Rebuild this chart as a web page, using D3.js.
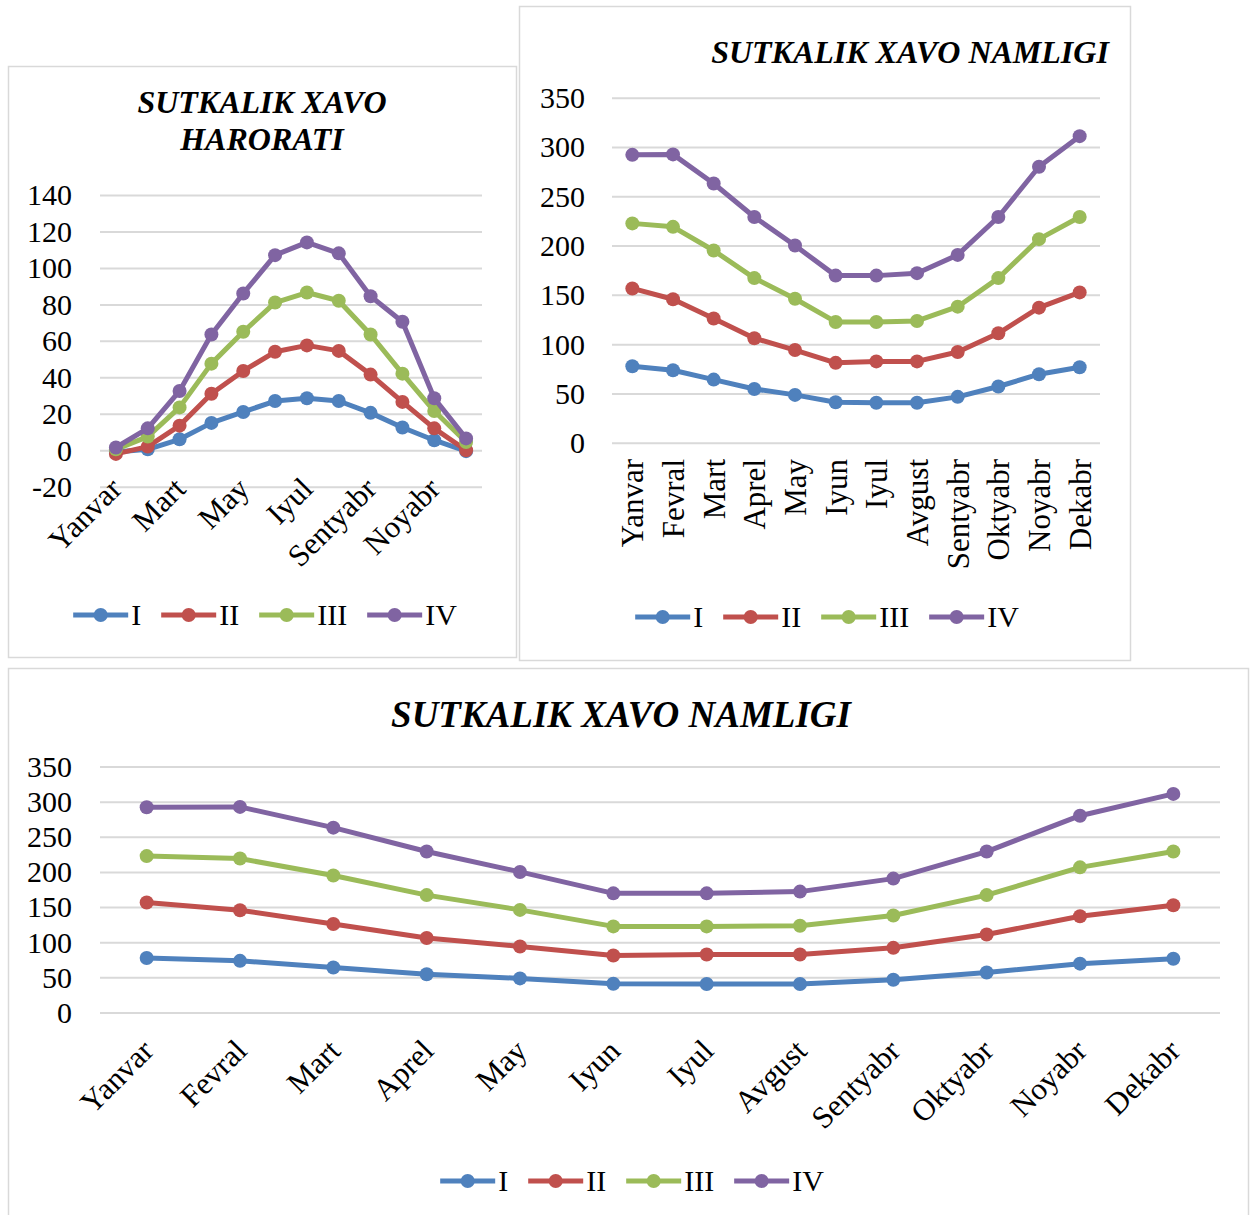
<!DOCTYPE html>
<html>
<head>
<meta charset="utf-8">
<script src="https://cdn.jsdelivr.net/npm/d3@7"></script>
<style>
  body { margin: 0; background: #fff; }
  text { font-family: "Liberation Serif", "Times New Roman", serif; fill: #000; }
</style>
</head>
<body>
<svg id="chart" width="1250" height="1215"></svg>
<script>
// categories and series
var months = ["Yanvar", "Fevral", "Mart", "Aprel", "May", "Iyun", "Iyul", "Avgust", "Sentyabr", "Oktyabr", "Noyabr", "Dekabr"];
var seriesNames = ["I", "II", "III", "IV"];
var colors = ["#4F81BD", "#C0504D", "#9BBB59", "#8064A2"];

// daily air temperature (values as plotted)
var tempI   = [-1, 0.5, 6, 15, 21, 27, 28.5, 27, 20.5, 12.5, 5.5, -0.5];
var tempII  = [-2, 2, 13.5, 31, 43.5, 54, 57.5, 54.5, 41.5, 26.5, 12, 0];
var tempIII = [0.5, 7.5, 23.5, 47.5, 65, 81, 86.5, 82, 63.5, 42, 21.5, 4.5];
var tempIV  = [1.5, 12, 32.5, 63.5, 86, 107, 114, 108, 84.5, 70.5, 28.5, 6.5];
var tempTicks = [-20, 0, 20, 40, 60, 80, 100, 120, 140];

// daily air humidity (values as plotted)
var humI   = [77.5, 73.5, 64, 54.5, 48.5, 41, 40.5, 40.5, 46.5, 57, 69.5, 76.5];
var humII  = [156.5, 145.5, 126, 106, 94, 81, 82.5, 82.5, 92, 111, 137, 152.5];
var humIII = [222.5, 219, 195, 167, 146, 122.5, 122.5, 123.5, 138, 167, 206.5, 229];
var humIV  = [292, 292.5, 263, 229, 200, 169.5, 169.5, 172, 190.5, 229, 280, 311];
var humTicks = [0, 50, 100, 150, 200, 250, 300, 350];

var serif = '"Liberation Serif", "Times New Roman", serif';
var svg = d3.select("#chart");

function drawChart(cfg) {
    var g = svg.append("g");

    // outer frame
    g.append("rect")
        .attr("x", cfg.frame[0] + 0.5).attr("y", cfg.frame[1] + 0.5)
        .attr("width", cfg.frame[2]).attr("height", cfg.frame[3])
        .attr("fill", "#fff").attr("stroke", "#d9d9d9").attr("stroke-width", 1.5);

    // title
    cfg.title.forEach(function (t, i) {
        g.append("text")
            .attr("x", cfg.titleX).attr("y", cfg.titleY[i])
            .attr("text-anchor", "middle")
            .style("font-size", cfg.titleSize + "px")
            .style("font-weight", "bold").style("font-style", "italic")
            .text(t);
    });

    var x = d3.scalePoint().domain(months).range([cfg.plot[0], cfg.plot[1]]).padding(0.5);
    var y = d3.scaleLinear().domain(cfg.domain).range([cfg.plot[3], cfg.plot[2]]);

    // y axis + gridlines
    var yAxis = g.append("g")
        .attr("transform", "translate(" + cfg.plot[0] + ",0)")
        .call(d3.axisLeft(y)
            .tickValues(cfg.ticks)
            .tickFormat(function (d) { return String(d); })
            .tickSize(-(cfg.plot[1] - cfg.plot[0]))
            .tickPadding(cfg.tickPad));
    yAxis.attr("font-family", null).attr("font-size", null);
    yAxis.select(".domain").remove();
    yAxis.selectAll("line").attr("stroke", "#d9d9d9").attr("stroke-width", 2);
    yAxis.selectAll("text")
        .style("font-family", serif)
        .style("font-size", cfg.yFont + "px")
        .attr("dy", "0.33em");

    // category labels
    g.append("g").selectAll("text")
        .data(months.filter(function (m, i) { return i % cfg.labelEvery == 0; }))
        .enter().append("text")
        .attr("transform", function (d) {
            return "translate(" + (x(d) + cfg.labelDx) + "," + cfg.labelY + ") rotate(" + cfg.labelRot + ")";
        })
        .attr("text-anchor", "end")
        .attr("dy", "0.35em")
        .style("font-size", cfg.xFont + "px")
        .text(function (d) { return d; });

    var line = d3.line()
        .x(function (d, i) { return x(months[i]); })
        .y(function (d) { return y(d); });

    cfg.series.forEach(function (s, k) {
        g.append("path")
            .datum(s)
            .attr("d", line)
            .attr("fill", "none")
            .attr("stroke", colors[k])
            .attr("stroke-width", 5)
            .attr("stroke-linejoin", "round");
        g.append("g").selectAll("circle")
            .data(s)
            .enter().append("circle")
            .attr("cx", function (d, i) { return x(months[i]); })
            .attr("cy", function (d) { return y(d); })
            .attr("r", cfg.markerR)
            .attr("fill", colors[k]);
    });

    // legend
    var leg = g.append("g");
    var cx = 0;
    seriesNames.forEach(function (name, k) {
        var item = leg.append("g").attr("transform", "translate(" + cx + ",0)");
        item.append("line")
            .attr("x1", 0).attr("x2", 55).attr("y1", 0).attr("y2", 0)
            .attr("stroke", colors[k]).attr("stroke-width", 5);
        item.append("circle").attr("cx", 27.5).attr("cy", 0).attr("r", cfg.markerR).attr("fill", colors[k]);
        var t = item.append("text")
            .attr("x", 58).attr("dy", "0.34em")
            .style("font-size", cfg.yFont + "px")
            .text(name);
        cx += 58 + t.node().getComputedTextLength() + cfg.legendGap;
    });
    var legW = cx - cfg.legendGap;
    leg.attr("transform", "translate(" + (cfg.legendX - legW / 2) + "," + cfg.legendY + ")");
}

drawChart({
    frame: [8, 66, 508, 591],
    title: ["SUTKALIK XAVO", "HARORATI"], titleX: 262, titleY: [113, 150], titleSize: 32,
    plot: [100, 482, 195, 486.7], domain: [-20, 140], ticks: tempTicks, tickPad: 28,
    yFont: 30, xFont: 31, labelEvery: 2, labelRot: -45, labelDx: 0, labelY: 483,
    series: [tempI, tempII, tempIII, tempIV], markerR: 7,
    legendX: 265, legendY: 615, legendGap: 20
});

drawChart({
    frame: [519, 6, 611, 654],
    title: ["SUTKALIK XAVO NAMLIGI"], titleX: 910, titleY: [63], titleSize: 32,
    plot: [612, 1100, 97.7, 442.7], domain: [0, 350], ticks: humTicks, tickPad: 27,
    yFont: 30, xFont: 31, labelEvery: 1, labelRot: -90, labelDx: 0, labelY: 459,
    series: [humI, humII, humIII, humIV], markerR: 7,
    legendX: 827, legendY: 617, legendGap: 20
});

drawChart({
    frame: [8, 668, 1240, 560],
    title: ["SUTKALIK XAVO NAMLIGI"], titleX: 621, titleY: [727], titleSize: 37,
    plot: [100, 1220, 766.5, 1012.5], domain: [0, 350], ticks: humTicks, tickPad: 28,
    yFont: 30, xFont: 31, labelEvery: 1, labelRot: -45, labelDx: 1, labelY: 1045,
    series: [humI, humII, humIII, humIV], markerR: 7,
    legendX: 632, legendY: 1181, legendGap: 20
});
</script>
</body>
</html>
